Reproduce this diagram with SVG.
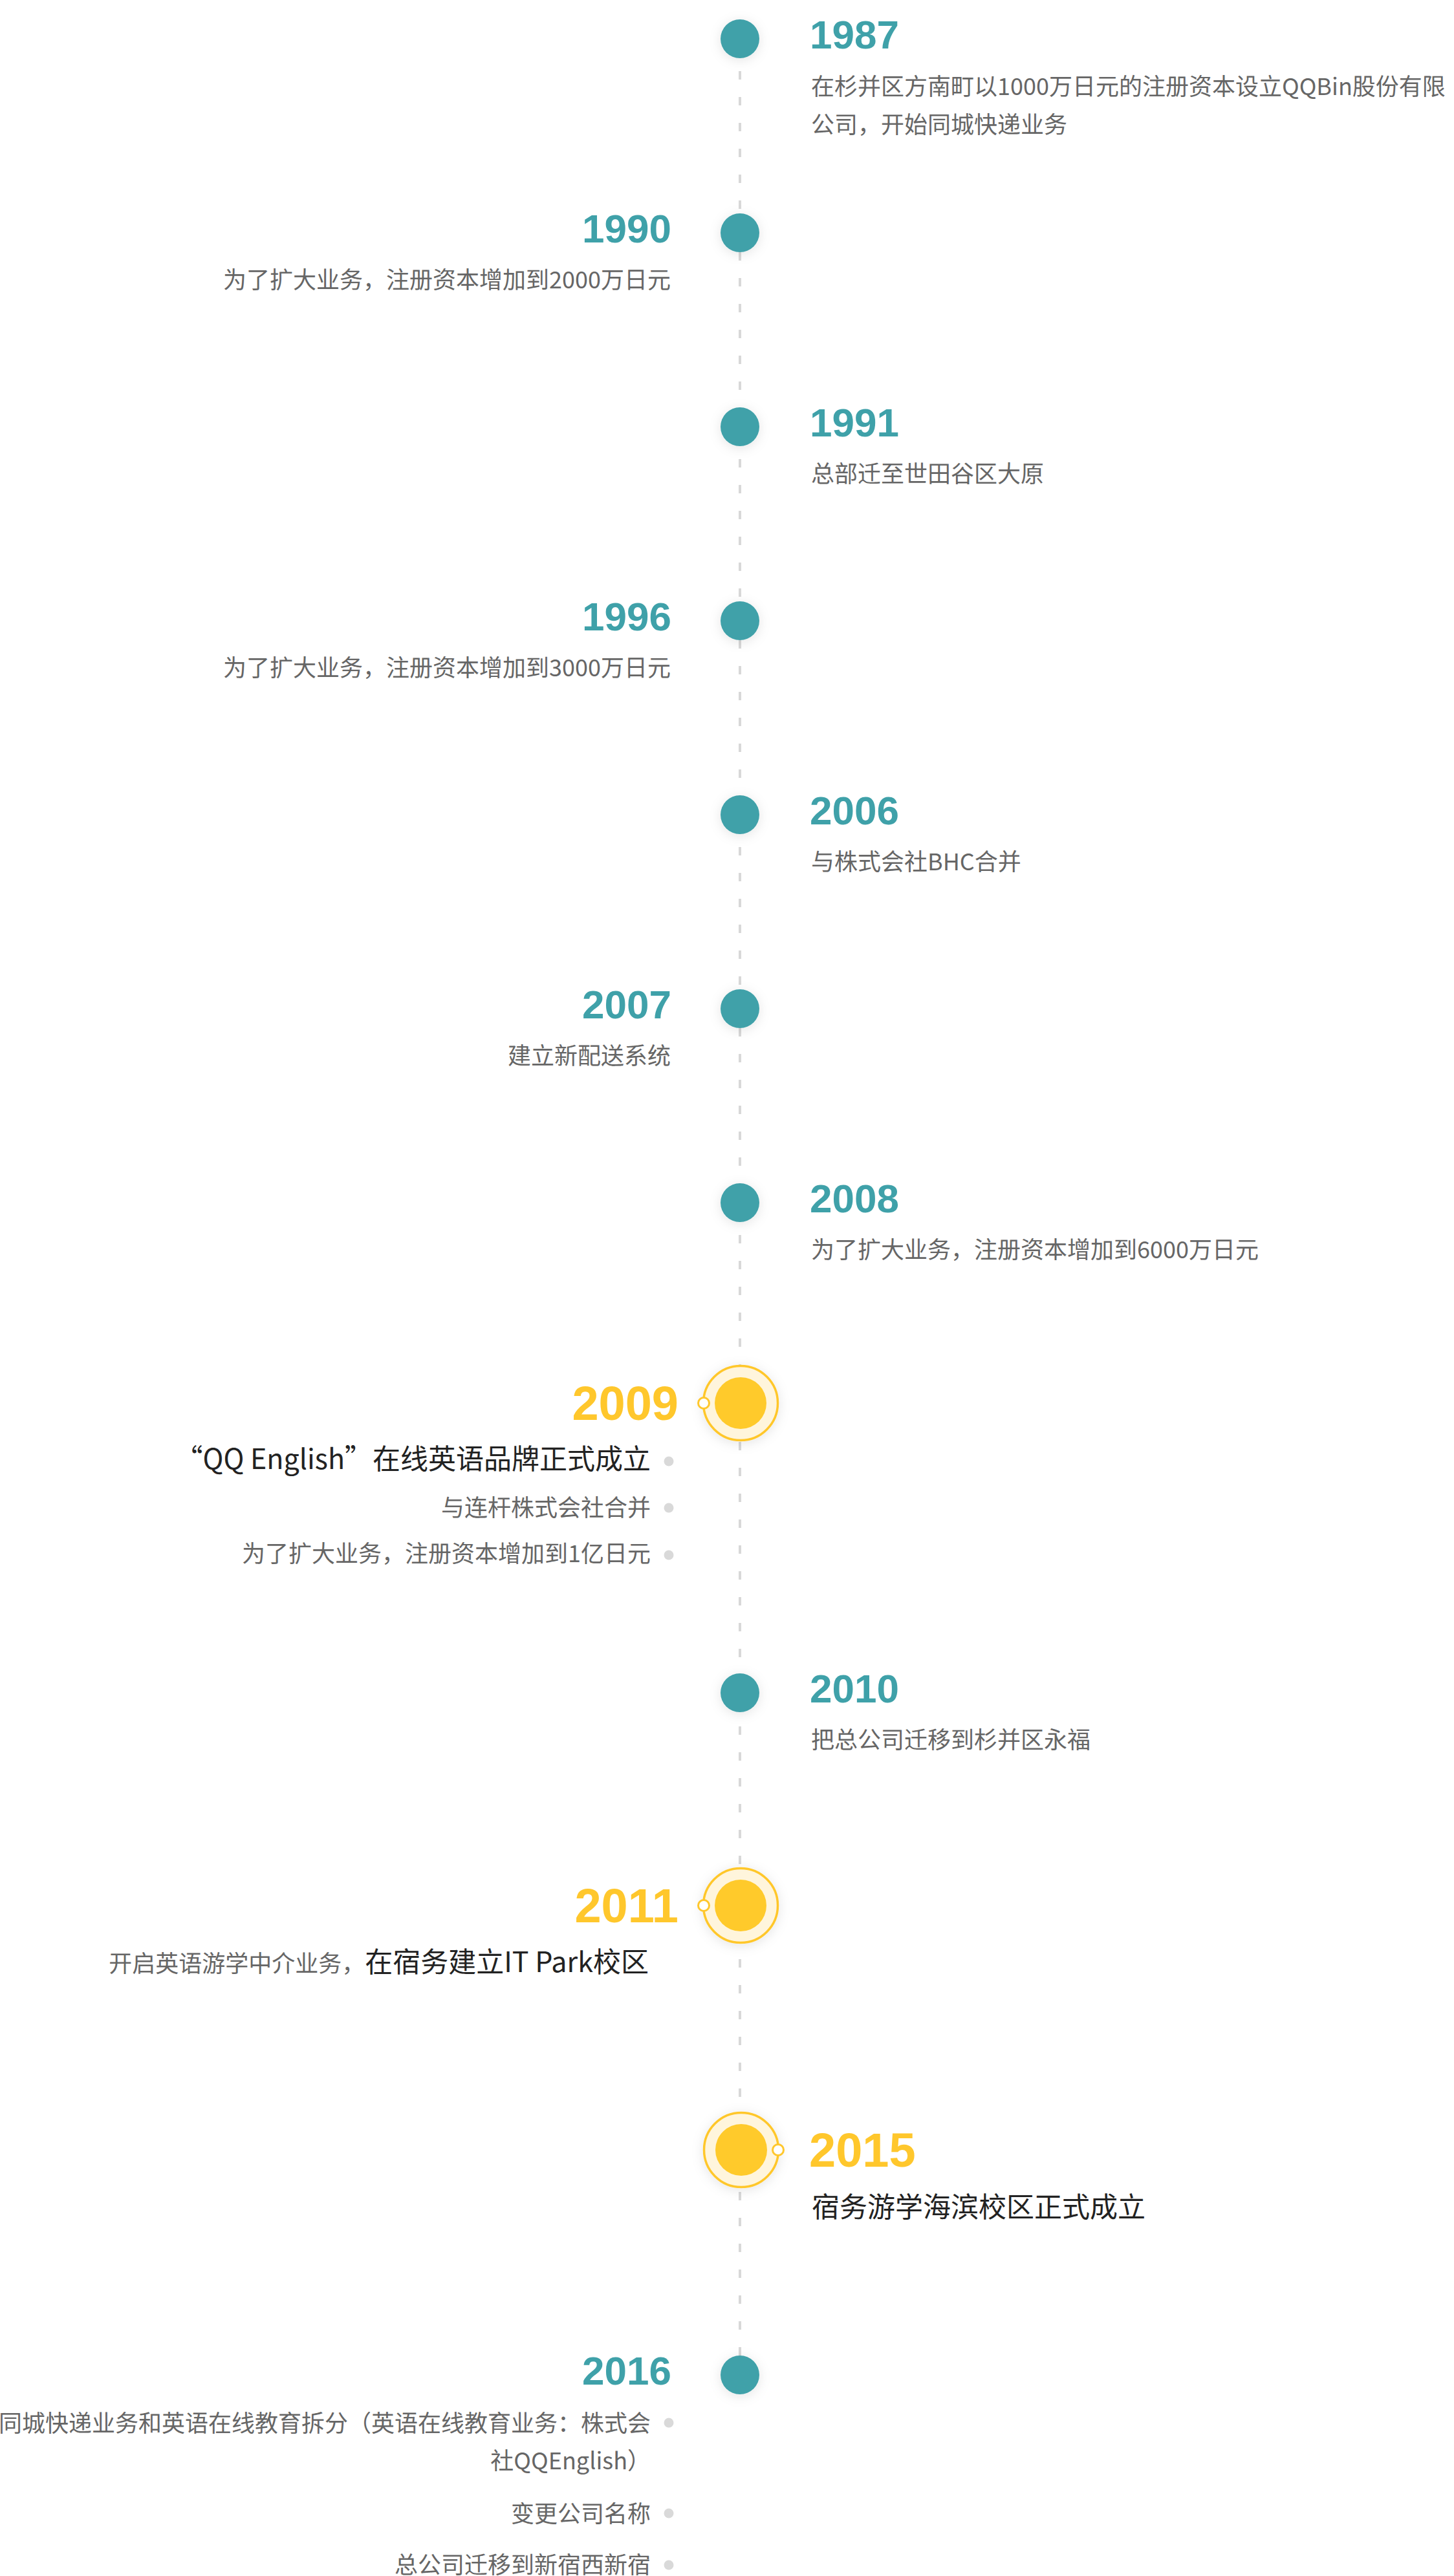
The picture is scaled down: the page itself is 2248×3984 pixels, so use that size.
<svg xmlns="http://www.w3.org/2000/svg" width="2248" height="3984" viewBox="0 0 2248 3984">
<defs>
<filter id="sh" x="-80%" y="-80%" width="260%" height="260%">
<feDropShadow dx="0" dy="3" stdDeviation="9" flood-color="#000" flood-opacity="0.10"/>
</filter>
<style>
.yr{font-family:"Liberation Sans",Arial,sans-serif;font-weight:bold;font-size:62px;fill:#3fa1a9}
.yb{font-family:"Liberation Sans",Arial,sans-serif;font-weight:bold;font-size:74px;fill:#ffc72c}
.d{font-family:"Noto Sans CJK SC","Microsoft YaHei",sans-serif;font-size:36px;fill:#666}
.k{font-family:"Noto Sans CJK SC","Microsoft YaHei",sans-serif;font-size:43px;fill:#222}
.dot{fill:#3fa1a9;filter:url(#sh)}
.ring{fill:#fff5dc;stroke:#ffc72c;stroke-width:3.5;filter:url(#sh)}
.core{fill:#ffca2b}
.knob{fill:#fff;stroke:#ffc72c;stroke-width:3}
.bul{fill:#d9d9d9}
.l{text-anchor:end}
</style>
</defs>
<rect width="2248" height="3984" fill="#fff"/>
<g id="connectors">
<line x1="1144" y1="30" x2="1144" y2="3643" stroke="#d8d8d8" stroke-width="4" stroke-dasharray="13 27"/>
</g>
<g id="n1987">
<circle class="dot" cx="1144" cy="60" r="30"/>
<text class="yr" x="1252" y="75">1987</text>
<text class="d" x="1254" y="147">在杉并区方南町以1000万日元的注册资本设立QQBin股份有限</text>
<text class="d" x="1254" y="206">公司，开始同城快递业务</text>
</g>
<g id="n1990">
<circle class="dot" cx="1144" cy="360" r="30"/>
<text class="yr l" x="1038" y="375">1990</text>
<text class="d l" x="1037" y="446">为了扩大业务，注册资本增加到2000万日元</text>
</g>
<g id="n1991">
<circle class="dot" cx="1144" cy="660" r="30"/>
<text class="yr" x="1252" y="675">1991</text>
<text class="d" x="1254" y="746">总部迁至世田谷区大原</text>
</g>
<g id="n1996">
<circle class="dot" cx="1144" cy="960" r="30"/>
<text class="yr l" x="1038" y="975">1996</text>
<text class="d l" x="1037" y="1046">为了扩大业务，注册资本增加到3000万日元</text>
</g>
<g id="n2006">
<circle class="dot" cx="1144" cy="1260" r="30"/>
<text class="yr" x="1252" y="1275">2006</text>
<text class="d" x="1254" y="1346">与株式会社BHC合并</text>
</g>
<g id="n2007">
<circle class="dot" cx="1144" cy="1560" r="30"/>
<text class="yr l" x="1038" y="1575">2007</text>
<text class="d l" x="1037" y="1646">建立新配送系统</text>
</g>
<g id="n2008">
<circle class="dot" cx="1144" cy="1860" r="30"/>
<text class="yr" x="1252" y="1875">2008</text>
<text class="d" x="1254" y="1946">为了扩大业务，注册资本增加到6000万日元</text>
</g>
<g id="n2009">
<circle class="ring" cx="1145" cy="2170" r="57.5"/>
<circle class="core" cx="1145" cy="2170" r="40"/>
<circle class="knob" cx="1088" cy="2170" r="8.5"/>
<text class="yb l" x="1049" y="2196">2009</text>
<text class="k l" x="1006" y="2272">“QQ English”在线英语品牌正式成立</text>
<circle class="bul" cx="1034" cy="2260" r="7.5"/>
<text class="d l" x="1006" y="2345">与连杆株式会社合并</text>
<circle class="bul" cx="1034" cy="2332" r="7.5"/>
<text class="d l" x="1006" y="2416">为了扩大业务，注册资本增加到1亿日元</text>
<circle class="bul" cx="1034" cy="2405" r="7.5"/>
</g>
<g id="n2010">
<circle class="dot" cx="1144" cy="2618" r="30"/>
<text class="yr" x="1252" y="2633">2010</text>
<text class="d" x="1254" y="2704">把总公司迁移到杉并区永福</text>
</g>
<g id="n2011">
<circle class="ring" cx="1145" cy="2947" r="57.5"/>
<circle class="core" cx="1145" cy="2947" r="40"/>
<circle class="knob" cx="1088" cy="2947" r="8.5"/>
<text class="yb l" x="1049" y="2973">2011</text>
<text class="l" x="1003" y="3050"><tspan class="d">开启英语游学中介业务，</tspan><tspan class="k">在宿务建立IT Park校区</tspan></text>
</g>
<g id="n2015">
<circle class="ring" cx="1146" cy="3325" r="57.5"/>
<circle class="core" cx="1146" cy="3325" r="40"/>
<circle class="knob" cx="1203" cy="3325" r="8.5"/>
<text class="yb" x="1251" y="3351">2015</text>
<text class="k" x="1255" y="3429">宿务游学海滨校区正式成立</text>
</g>
<g id="n2016">
<circle class="dot" cx="1144" cy="3673" r="30"/>
<text class="yr l" x="1038" y="3688">2016</text>
<text class="d l" x="1006" y="3761">同城快递业务和英语在线教育拆分（英语在线教育业务：株式会</text>
<text class="d l" x="1006" y="3819">社QQEnglish）</text>
<circle class="bul" cx="1034" cy="3747" r="7.5"/>
<text class="d l" x="1006" y="3901">变更公司名称</text>
<circle class="bul" cx="1034" cy="3887" r="7.5"/>
<text class="d l" x="1006" y="3980">总公司迁移到新宿西新宿</text>
<circle class="bul" cx="1034" cy="3967" r="7.5"/>
</g>
</svg>
